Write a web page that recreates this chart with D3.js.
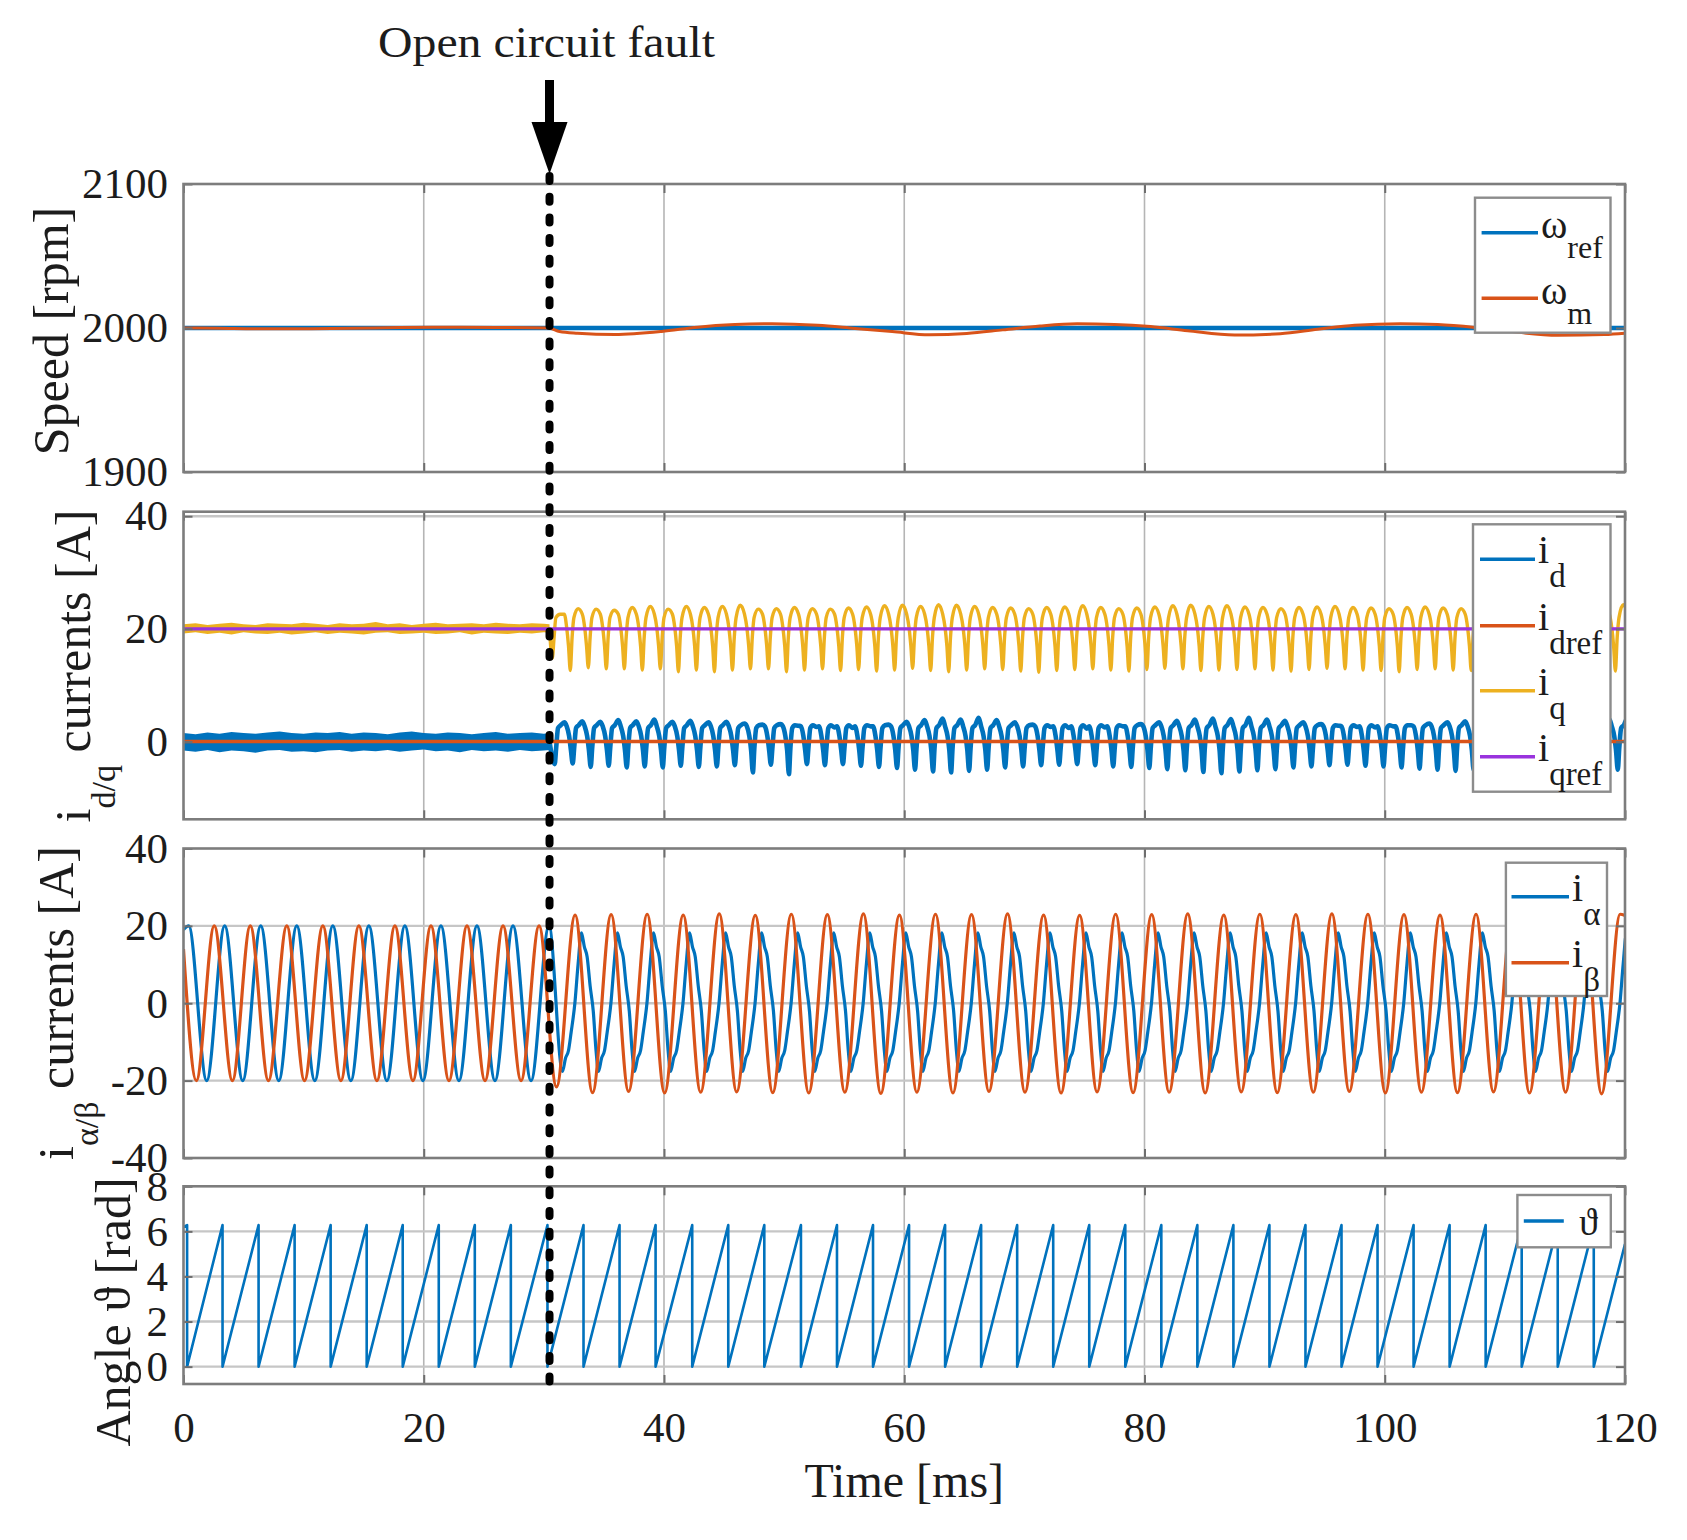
<!DOCTYPE html>
<html><head><meta charset="utf-8">
<script src="https://cdn.jsdelivr.net/npm/d3@7"></script>
<style>
body{margin:0;background:#fff}
svg{display:block}
text{font-family:"Liberation Serif","Times New Roman","DejaVu Serif",serif;fill:#1c1c1c}
</style>
</head><body>
<svg id="chart" width="1687" height="1540"></svg>
<script>
// ================= DATA =================
const timeTicks = [0, 20, 40, 60, 80, 100, 120];
const faultTime = 30.47;
const faultLabel = "Open circuit fault";
const timeLabel = "Time [ms]";

// ---- Panel 1 : speed [rpm]
const speedTicks = [1900, 2000, 2100];
const omegaRef = [[0, 2000], [120, 2000]];
const omegaM = [[0,2000],[3,1999.8],[6,1999.5],[10,1999.5],[14,1999.8],[18,2000.4],[22,2000.6],[26,2000.4],[30.4,2000],
  [31.3,1997.6],[32.8,1996.4],[35.9,1995.5],[39.8,1997.6],[42.8,2000.6],[45.9,2002.4],[49.0,2003.0],[52.8,2001.9],
  [55.9,1999.7],[59.0,1997.5],[62.1,1995.3],[65.2,1996.2],[68.2,1998.7],[71.3,2001.4],[74.4,2002.9],[77.5,2002.5],
  [80.5,2001.0],[83.6,1998.1],[87.5,1995.1],[91.3,1996.0],[94.4,1999.1],[97.5,2001.9],[101.3,2003.0],[104.4,2002.4],
  [107.5,2000.4],[110.6,1997.5],[114.4,1994.9],[118.3,1995.4],[120,1996.3]];
const speedNames = [{main:"ω", sub:"ref"}, {main:"ω", sub:"m"}];

// ---- Panel 2 : d/q currents [A]
const idqTicks = [0, 20, 40];
const idRef = [[0, 0], [120, 0]];
const iqRef = [[0, 20], [120, 20]];
// noisy band before the fault: [t, low, high]
const idPreBand = [[0,-1.6,1.5],[1,-1.8,1.3],[2,-1.5,1.6],[3,-1.9,1.4],[4,-1.6,1.7],[5,-1.7,1.5],[6,-2.0,1.4],[7,-1.6,1.6],
  [8,-1.5,1.8],[9,-1.8,1.5],[10,-1.7,1.4],[11,-1.9,1.6],[12,-1.6,1.5],[13,-1.5,1.7],[14,-1.8,1.4],[15,-1.6,1.6],
  [16,-1.7,1.5],[17,-1.5,1.3],[18,-1.8,1.6],[19,-1.6,1.8],[20,-1.4,1.5],[21,-1.7,1.4],[22,-1.6,1.6],[23,-1.9,1.5],
  [24,-1.5,1.3],[25,-1.7,1.5],[26,-1.6,1.7],[27,-1.8,1.4],[28,-1.5,1.5],[29,-1.7,1.6],[30,-1.6,1.4],[30.47,-1.5,1.5]];
const iqPreBand = [[0,19.2,20.8],[1,19.4,21.0],[2,19.1,20.7],[3,19.3,20.9],[4,19.0,21.1],[5,19.4,20.8],[6,19.2,20.7],
  [7,19.1,21.0],[8,19.3,20.9],[9,19.0,20.8],[10,19.2,21.1],[11,19.4,20.9],[12,19.1,20.7],[13,19.3,21.0],[14,19.2,20.8],
  [15,19.0,20.9],[16,19.3,21.2],[17,19.4,20.8],[18,19.1,21.0],[19,19.2,20.7],[20,19.3,20.9],[21,19.1,21.1],[22,19.2,20.8],
  [23,19.4,20.9],[24,19.0,21.0],[25,19.3,20.8],[26,19.2,21.1],[27,19.1,20.9],[28,19.3,20.8],[29,19.2,21.0],[30,19.4,20.9],[30.47,19.3,20.8]];
// after the fault: trough times and per-cycle trough / peak values
const iqTroughTimes = [30.7,32.2,33.7,35.2,36.7,38.2,39.7,41.2,42.7,44.2,45.7,47.2,48.7,50.2,51.7,53.2,54.7,56.2,57.7,59.2,
  60.7,62.2,63.7,65.2,66.7,68.2,69.7,71.2,72.7,74.2,75.7,77.2,78.7,80.2,81.7,83.2,84.7,86.2,87.7,89.2,
  90.7,92.2,93.7,95.2,96.7,98.2,99.7,101.2,102.7,104.2,105.7,107.2,108.7,110.2,111.7,113.2,114.7,116.2,117.7,119.2];
const iqTroughVals = [14.8,12.6,13.1,12.9,12.9,12.7,12.9,12.4,12.7,12.4,12.7,12.9,12.9,12.4,12.7,12.9,12.6,12.8,12.5,12.7,
  13.0,12.6,12.4,12.7,12.9,12.8,12.5,12.3,12.6,12.8,12.9,12.7,12.5,12.8,13.0,12.9,12.6,12.7,12.8,12.9,
  12.7,12.5,12.8,13.0,12.9,12.7,12.6,12.4,12.8,12.9,12.7,12.6,12.9,12.8,12.7,12.6,12.8,12.9,12.7,12.5];
const iqPeakVals = [22.6,23.6,23.5,23.3,23.8,24.0,23.5,24.0,23.8,24.0,24.2,23.5,23.6,23.8,23.6,23.5,23.7,23.9,24.1,24.2,
  24.0,24.3,24.2,24.0,23.8,23.7,23.6,23.8,23.9,24.1,23.8,23.6,23.7,23.9,24.1,24.2,24.0,24.1,23.9,23.8,
  23.6,23.8,23.9,24.0,23.8,23.7,23.6,23.8,23.9,23.7,23.6,23.8,23.9,24.0,23.8,23.7,23.9,24.0,23.8,24.3];
const iqShapeRise = [[0.15,18.5],[0.3,22.0]];
const iqPeakOffset = 0.65;
const iqShapeFall = [[1.0,22.6],[1.2,20.2],[1.35,17.0]];

const idTroughTimes = [30.9,32.4,33.9,35.4,36.9,38.4,39.9,41.4,42.9,44.4,45.9,47.4,48.9,50.4,51.9,53.4,54.9,56.4,57.9,59.4,
  60.9,62.4,63.9,65.4,66.9,68.4,69.9,71.4,72.9,74.4,75.9,77.4,78.9,80.4,81.9,83.4,84.9,86.4,87.9,89.4,
  90.9,92.4,93.9,95.4,96.9,98.4,99.9,101.4,102.9,104.4,105.9,107.4,108.9,110.4,111.9,113.4,114.9,116.4,117.9,119.4];
const idTroughVals = [-4.0,-3.9,-4.5,-4.3,-4.6,-4.4,-4.6,-4.3,-4.5,-4.4,-4.2,-5.5,-4.1,-5.8,-4.0,-4.2,-4.0,-4.3,-4.5,-4.7,
  -5.0,-5.3,-5.5,-5.2,-5.0,-4.6,-4.4,-4.2,-4.1,-4.0,-4.2,-4.4,-4.5,-4.7,-4.9,-5.1,-5.4,-5.6,-5.3,-5.1,
  -4.9,-4.6,-4.4,-4.2,-4.1,-4.3,-4.4,-4.6,-4.8,-5.0,-5.2,-5.0,-4.8,-4.6,-4.5,-4.7,-4.9,-5.1,-5.3,-5.0];
const idPeakVals = [3.4,3.6,3.5,3.8,3.6,3.9,3.5,3.7,3.4,3.5,3.2,3.0,3.1,2.8,2.6,2.5,2.4,2.7,3.0,3.5,
  3.8,4.1,3.9,4.2,3.8,3.4,3.0,2.6,2.4,2.3,2.5,2.7,3.1,3.4,3.7,3.9,4.1,4.0,4.2,3.9,
  3.7,3.4,3.1,2.8,2.6,2.5,2.7,2.9,3.2,3.4,3.6,3.8,3.6,3.9,3.7,3.5,3.6,3.8,4.0,4.2];
const idShapeRise = [[0.12,-1.2],[0.28,2.4],[0.5,2.9]];
const idPeakOffset = 0.8;
const idShapeFall = [[1.0,2.7],[1.2,1.0],[1.35,-1.5]];
const idqNames = [{main:"i", sub:"d"}, {main:"i", sub:"dref"}, {main:"i", sub:"q"}, {main:"i", sub:"qref"}];

// ---- Panel 3 : alpha/beta currents [A]
const iabTicks = [-40, -20, 0, 20, 40];
const ibetaExtrema = [[0,14],[1.07,-20],[2.56,20],[4.07,-20],[5.56,20],[7.07,-20],[8.6,20],[10.07,-20],[11.6,20],[13.1,-20],
  [14.6,20],[16.1,-20],[17.6,20],[19.1,-20],[20.6,20],[22.1,-20],[23.6,20],[25.1,-20],[26.6,20],[28.1,-20],[29.6,20],
  [31.05,-21.6],[32.6,22.8],[34.05,-23.1],[35.6,22.9],[37.05,-22.8],[38.6,23.0],[40.05,-23.2],[41.6,22.8],[43.05,-23.0],
  [44.6,23.1],[46.05,-22.9],[47.6,22.7],[49.05,-23.1],[50.6,23.0],[52.05,-23.2],[53.6,22.9],[55.05,-23.0],[56.6,23.1],
  [58.05,-23.3],[59.6,22.8],[61.05,-23.0],[62.6,23.0],[64.05,-23.2],[65.6,22.9],[67.05,-22.8],[68.6,23.1],[70.05,-23.0],
  [71.6,22.8],[73.05,-23.2],[74.6,22.7],[76.05,-22.9],[77.6,23.0],[79.05,-23.1],[80.6,22.9],[82.05,-23.0],[83.6,23.1],
  [85.05,-23.2],[86.6,22.8],[88.05,-22.9],[89.6,23.0],[91.05,-23.1],[92.6,22.9],[94.05,-23.0],[95.6,23.1],[97.05,-22.8],
  [98.6,23.0],[100.05,-23.2],[101.6,22.9],[103.05,-23.0],[104.6,22.8],[106.05,-23.1],[107.6,23.0],[109.05,-22.9],
  [110.6,23.1],[112.05,-23.2],[113.6,22.8],[115.05,-23.0],[116.6,22.9],[118.05,-23.4],[119.6,23.0],[120,22.7]];
const ialphaPreExtrema = [[0,19],[0.43,20],[1.93,-20],[3.43,20],[4.93,-20],[6.43,20],[7.93,-20],[9.43,20],[10.93,-20],
  [12.43,20],[13.93,-20],[15.43,20],[16.93,-20],[18.43,20],[19.93,-20],[21.43,20],[22.93,-20],[24.43,20],[25.93,-20],
  [27.43,20],[28.93,-20],[30.43,20]];
const ialphaFaultTroughs = [31.55,34.55,37.55,40.55,43.55,46.55,49.55,52.55,55.55,58.55,61.55,64.55,67.55,70.55,73.55,
  76.55,79.55,82.55,85.55,88.55,91.55,94.55,97.55,100.55,103.55,106.55,109.55,112.55,115.55,118.55];
const ialphaFaultShape = [[0,-17.6],[0.25,-14.2],[0.5,-12.2],[0.72,-7.5],[1.03,0],[1.3,10.2],[1.58,18.2],[1.82,14.6],
  [2.05,12.0],[2.3,4.5],[2.56,-2],[2.8,-12.5]];
const iabNames = [{main:"i", sub:"α"}, {main:"i", sub:"β"}];

// ---- Panel 4 : electrical angle [rad]
const thetaTicks = [0, 2, 4, 6, 8];
const thetaMax = 6.28;
const thetaStart = 6.2;
const thetaEnd = 5.44;
const thetaWrapTimes = [0.3,3.25,6.25,9.25,12.25,15.25,18.25,21.25,24.25,27.25,30.3,33.3,36.3,39.3,42.35,45.35,48.35,51.4,
  54.4,57.4,60.4,63.4,66.4,69.4,72.4,75.4,78.4,81.4,84.4,87.4,90.4,93.4,96.4,99.4,102.4,105.4,108.4,111.4,114.4,117.4];
const thetaNames = [{main:"ϑ", sub:""}];

const yLabels = [
  [{t:"Speed [rpm]"}],
  [{t:"i"},{t:"d/q", sub:true},{t:" currents [A]"}],
  [{t:"i"},{t:"α/β", sub:true},{t:" currents [A]"}],
  [{t:"Angle ϑ [rad]"}]
];

// ================= DRAWING =================
const C = {blue:"#0072BD", orange:"#D95319", yellow:"#EDB120", purple:"#9933DD"};
const svg = d3.select("#chart");
svg.append("rect").attr("width",1687).attr("height",1540).attr("fill","#fff");
const defs = svg.append("defs");

const plotLeft = 183.5, plotRight = 1625;
const x = d3.scaleLinear().domain([0,120]).range([plotLeft, plotRight]);

const panelDefs = [
  {top:184,    bottom:472,    domain:[1900,2100], ticks:speedTicks, label:yLabels[0], lx:68, ly:331},
  {top:511.7,  bottom:819.3,  domain:[-13.8,40.8], ticks:idqTicks,  label:yLabels[1], lx:90, ly:666},
  {top:848.5,  bottom:1158,   domain:[-40,40],    ticks:iabTicks,   label:yLabels[2], lx:73, ly:1003},
  {top:1186.3, bottom:1384,   domain:[-0.77,8],   ticks:thetaTicks, label:yLabels[3], lx:130, ly:1312}
];

const panels = panelDefs.map((p, i) => {
  const y = d3.scaleLinear().domain(p.domain).range([p.bottom, p.top]);
  const g = svg.append("g");
  defs.append("clipPath").attr("id","clip"+i).append("rect")
    .attr("x",plotLeft).attr("y",p.top).attr("width",plotRight-plotLeft).attr("height",p.bottom-p.top);
  const grid = g.append("g");
  grid.append("g").selectAll("line").data(timeTicks.filter(t => t>0 && t<120)).join("line")
    .attr("x1",d=>x(d)).attr("x2",d=>x(d)).attr("y1",p.top).attr("y2",p.bottom)
    .attr("stroke","#b5b5b5").attr("stroke-width",1.6);
  grid.append("g").selectAll("line").data(p.ticks.filter(v => y(v) > p.top+2 && y(v) < p.bottom-2)).join("line")
    .attr("x1",plotLeft).attr("x2",plotRight).attr("y1",d=>y(d)).attr("y2",d=>y(d))
    .attr("stroke","#c6c6c6").attr("stroke-width",2.4);
  const data = g.append("g").attr("clip-path","url(#clip"+i+")");
  return {p, y, g, data};
});

function lineGen(y, curve) {
  return d3.line().x(d=>x(d[0])).y(d=>y(d[1])).curve(curve || d3.curveMonotoneX);
}
function addPath(panel, pts, color, w, curve) {
  panel.data.append("path").datum(pts).attr("d", lineGen(panel.y, curve)).attr("fill","none")
    .attr("stroke",color).attr("stroke-width",w).attr("stroke-linejoin","round");
}

// ---- panel 1
addPath(panels[0], omegaRef, C.blue, 4.6, d3.curveLinear);
addPath(panels[0], omegaM, C.orange, 3);

// ---- panel 2
function buildCycles(startPt, troughTimes, troughVals, peakVals, rise, peakOff, fall) {
  const pts = [startPt];
  troughTimes.forEach((T, k) => {
    pts.push([T, troughVals[k]]);
    rise.forEach(r => pts.push([T + r[0], r[1]]));
    pts.push([T + peakOff, peakVals[k]]);
    fall.forEach(f => pts.push([T + f[0], f[1]]));
  });
  return pts;
}
const p2 = panels[1];
const bandArea = d3.area().x(d=>x(d[0])).y0(d=>p2.y(d[1])).y1(d=>p2.y(d[2]));
p2.data.append("path").datum(idPreBand).attr("d", bandArea).attr("fill", C.blue);
const idPost = buildCycles([faultTime, 0], idTroughTimes, idTroughVals, idPeakVals, idShapeRise, idPeakOffset, idShapeFall);
addPath(p2, idPost, C.blue, 4.6);
addPath(p2, idRef, C.orange, 3.4, d3.curveLinear);
p2.data.append("path").datum(iqPreBand).attr("d", bandArea).attr("fill", C.yellow);
const iqPost = buildCycles([faultTime, 20], iqTroughTimes, iqTroughVals, iqPeakVals, iqShapeRise, iqPeakOffset, iqShapeFall);
addPath(p2, iqPost, C.yellow, 3.4);
addPath(p2, iqRef, C.purple, 3.4, d3.curveLinear);

// ---- panel 3
const ialpha = ialphaPreExtrema.slice();
ialphaFaultTroughs.forEach(T => ialphaFaultShape.forEach(s => ialpha.push([T + s[0], s[1]])));
addPath(panels[2], ialpha, C.blue, 3.2);
addPath(panels[2], ibetaExtrema, C.orange, 3.2);

// ---- panel 4
const thetaPts = [[0, thetaStart]];
thetaWrapTimes.forEach(w => { thetaPts.push([w, thetaMax]); thetaPts.push([w, 0]); });
thetaPts.push([120, thetaEnd]);
addPath(panels[3], thetaPts, C.blue, 2.6, d3.curveLinear);

// ---- axes, frames, labels
const plainFormat = d => String(d);   // hyphen minus like the reference
panels.forEach((P, i) => {
  const {p, y, g} = P;
  const ax = g.append("g");
  ax.append("g").attr("transform",`translate(${plotLeft},0)`)
    .call(d3.axisLeft(y).tickValues(p.ticks).tickSize(-9).tickPadding(15.5).tickFormat(plainFormat));
  ax.append("g").attr("transform",`translate(${plotRight},0)`)
    .call(d3.axisRight(y).tickValues(p.ticks).tickSize(-9).tickFormat(""));
  ax.append("g").attr("transform",`translate(0,${p.top})`)
    .call(d3.axisTop(x).tickValues(timeTicks).tickSize(-9).tickFormat(""));
  ax.append("g").attr("transform",`translate(0,${p.bottom})`)
    .call(i === 3 ? d3.axisBottom(x).tickValues(timeTicks).tickSize(-9).tickPadding(27.5).tickFormat(plainFormat)
                  : d3.axisBottom(x).tickValues(timeTicks).tickSize(-9).tickFormat(""));
  ax.selectAll(".domain").remove();
  ax.attr("font-family", null);
  ax.selectAll("g").attr("font-family", null);
  ax.selectAll(".tick line").attr("stroke","#6e6e6e").attr("stroke-width",2);
  ax.selectAll("text").attr("font-size",43).attr("fill","#1c1c1c");
  g.append("rect").attr("x",plotLeft).attr("y",p.top).attr("width",plotRight-plotLeft).attr("height",p.bottom-p.top)
    .attr("fill","none").attr("stroke","#7d7d7d").attr("stroke-width",2.6);
  // y label
  const t = svg.append("text").attr("transform",`translate(${p.lx},${p.ly}) rotate(-90)`)
    .attr("text-anchor","middle").attr("font-size",50);
  let shifted = false;
  p.label.forEach(part => {
    const ts = t.append("tspan").text(part.t);
    if (part.sub) { ts.attr("font-size",34).attr("dy",25); shifted = true; }
    else if (shifted) { ts.attr("dy",-25); shifted = false; }
  });
});

// x-axis title
svg.append("text").attr("x",(plotLeft+plotRight)/2).attr("y",1497).attr("text-anchor","middle")
  .attr("font-size",48).text(timeLabel);

// ---- legends
function drawLegend(box, names, colors, ys, lx1, lx2, tx, opts) {
  const lg = svg.append("g");
  lg.append("rect").attr("x",box[0]).attr("y",box[1]).attr("width",box[2]).attr("height",box[3])
    .attr("fill","#fff").attr("stroke","#8c8c8c").attr("stroke-width",2.4);
  names.forEach((n, k) => {
    lg.append("line").attr("x1",lx1).attr("x2",lx2).attr("y1",ys[k]).attr("y2",ys[k])
      .attr("stroke",colors[k]).attr("stroke-width",3.6);
    const t = lg.append("text").attr("x",tx).attr("y",ys[k]+opts.base).attr("font-size",opts.fs);
    t.append("tspan").text(n.main);
    if (n.sub) t.append("tspan").attr("font-size",opts.subFs).attr("dy",opts.subDy).text(n.sub);
  });
}
drawLegend([1475,197.7,135.5,135], speedNames, [C.blue,C.orange], [232.7,298.3], 1481.6, 1538, 1541,
  {base:5.6, fs:40, subFs:32, subDy:20});
drawLegend([1473,524.3,137.5,267.4], idqNames, [C.blue,C.orange,C.yellow,C.purple], [559.3,625.7,690.7,756.7],
  1480, 1535, 1538, {base:4, fs:40, subFs:33, subDy:24});
drawLegend([1505.9,862.7,101.1,133.3], iabNames, [C.blue,C.orange], [896.7,962.7], 1511.5, 1569, 1572,
  {base:4, fs:40, subFs:33, subDy:24});
drawLegend([1517.4,1195,93.4,52.3], thetaNames, [C.blue], [1221], 1523.8, 1563.8, 1579,
  {base:14, fs:38, subFs:30, subDy:0});

// ---- fault marker
const fx = x(faultTime);
svg.append("line").attr("x1",fx).attr("x2",fx).attr("y1",176).attr("y2",1384)
  .attr("stroke","#000").attr("stroke-width",8).attr("stroke-dasharray","5 15.7").attr("stroke-linecap","round");
svg.append("line").attr("x1",fx).attr("x2",fx).attr("y1",80).attr("y2",126)
  .attr("stroke","#000").attr("stroke-width",9);
svg.append("path").attr("d",`M${fx-18},122 L${fx+18},122 L${fx},174 Z`).attr("fill","#000");
svg.append("text").attr("x",fx-3).attr("y",57).attr("text-anchor","middle").attr("font-size",44)
  .attr("textLength",337).attr("lengthAdjust","spacingAndGlyphs").text(faultLabel);
</script>
</body></html>
